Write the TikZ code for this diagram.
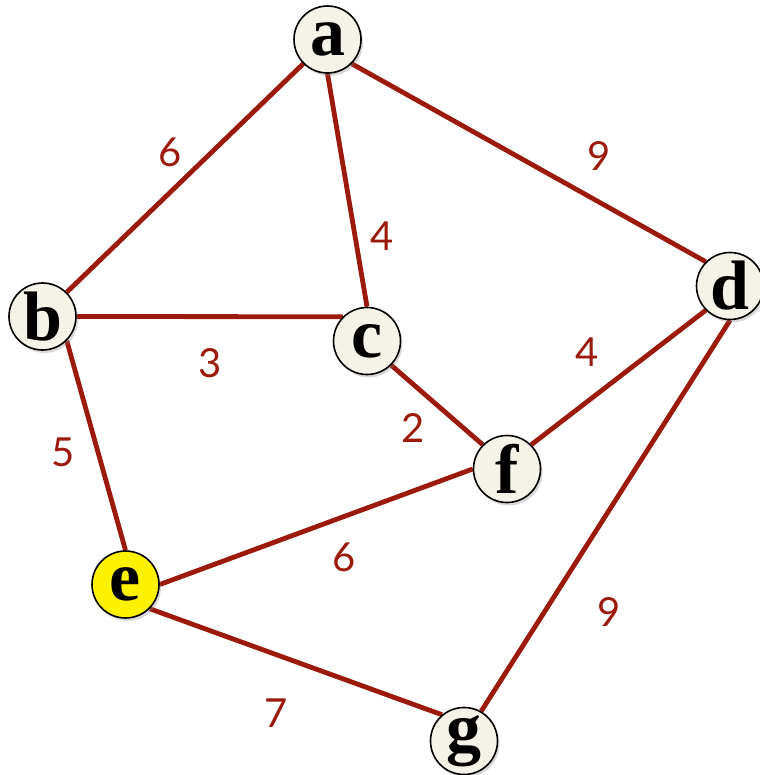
\documentclass[tikz,border=0pt]{standalone}
\usepackage{fontspec}
\setmainfont{Liberation Serif}
\newfontfamily\lblfont{Lato}
\usetikzlibrary{shadows,backgrounds}
\definecolor{edgered}{HTML}{9B1A0C}
\definecolor{nodefill}{HTML}{F5F2E7}
\tikzset{
  vtx/.style={circle, draw=black, line width=1.6pt, fill=nodefill, minimum size=67pt, inner sep=0pt,
    font=\fontsize{70}{70}\selectfont\bfseries,
    drop shadow={shadow xshift=2pt, shadow yshift=-3pt, opacity=0.3}},
  edge/.style={draw=edgered, line width=4.8pt},
  wlabel/.style={text=edgered, font=\lblfont\fontsize{40}{40}\selectfont, inner sep=0pt}
}
\begin{document}
\begin{tikzpicture}[x=1pt,y=-1pt]
\useasboundingbox (0,0) rectangle (759,775);
\node[vtx] (a) at (327.5,39.5) {a};
\node[vtx] (b) at (42.5,316.5) {b};
\node[vtx] (c) at (367,341) {c};
\node[vtx] (d) at (730,286) {d};
\node[vtx, fill=yellow] (e) at (125.5,584.5) {e};
\node[vtx] (f) at (507,469) {f};
\node[vtx] (g) at (464,741) {g};
\begin{pgfonlayer}{background}
\draw[edge] (a.south west) -- (b.north east);
\draw[edge] (a.south) -- (c.north);
\draw[edge] (a.south east) -- (d.north west);
\draw[edge] (b.east) -- (c.north west);
\draw[edge] (b.south east) -- (e.north);
\draw[edge] (c.south east) -- (f.north west);
\draw[edge] (d.south west) -- (f.north east);
\draw[edge] (d.south) -- (g.60);
\draw[edge] (e.east) -- (f.west);
\draw[edge] (e.south east) -- (g.130);
\end{pgfonlayer}
\node[wlabel] (l1) at (170,152) {6};
\node[wlabel] (l2) at (599,156) {9};
\node[wlabel] (l3) at (382,236) {4};
\node[wlabel] (l4) at (210,363) {3};
\node[wlabel] (l5) at (587,352) {4};
\node[wlabel] (l6) at (413,428) {2};
\node[wlabel] (l7) at (63,452) {5};
\node[wlabel] (l8) at (344,557) {6};
\node[wlabel] (l9) at (609,612) {9};
\node[wlabel] (l10) at (276,713) {7};
\end{tikzpicture}
\end{document}
